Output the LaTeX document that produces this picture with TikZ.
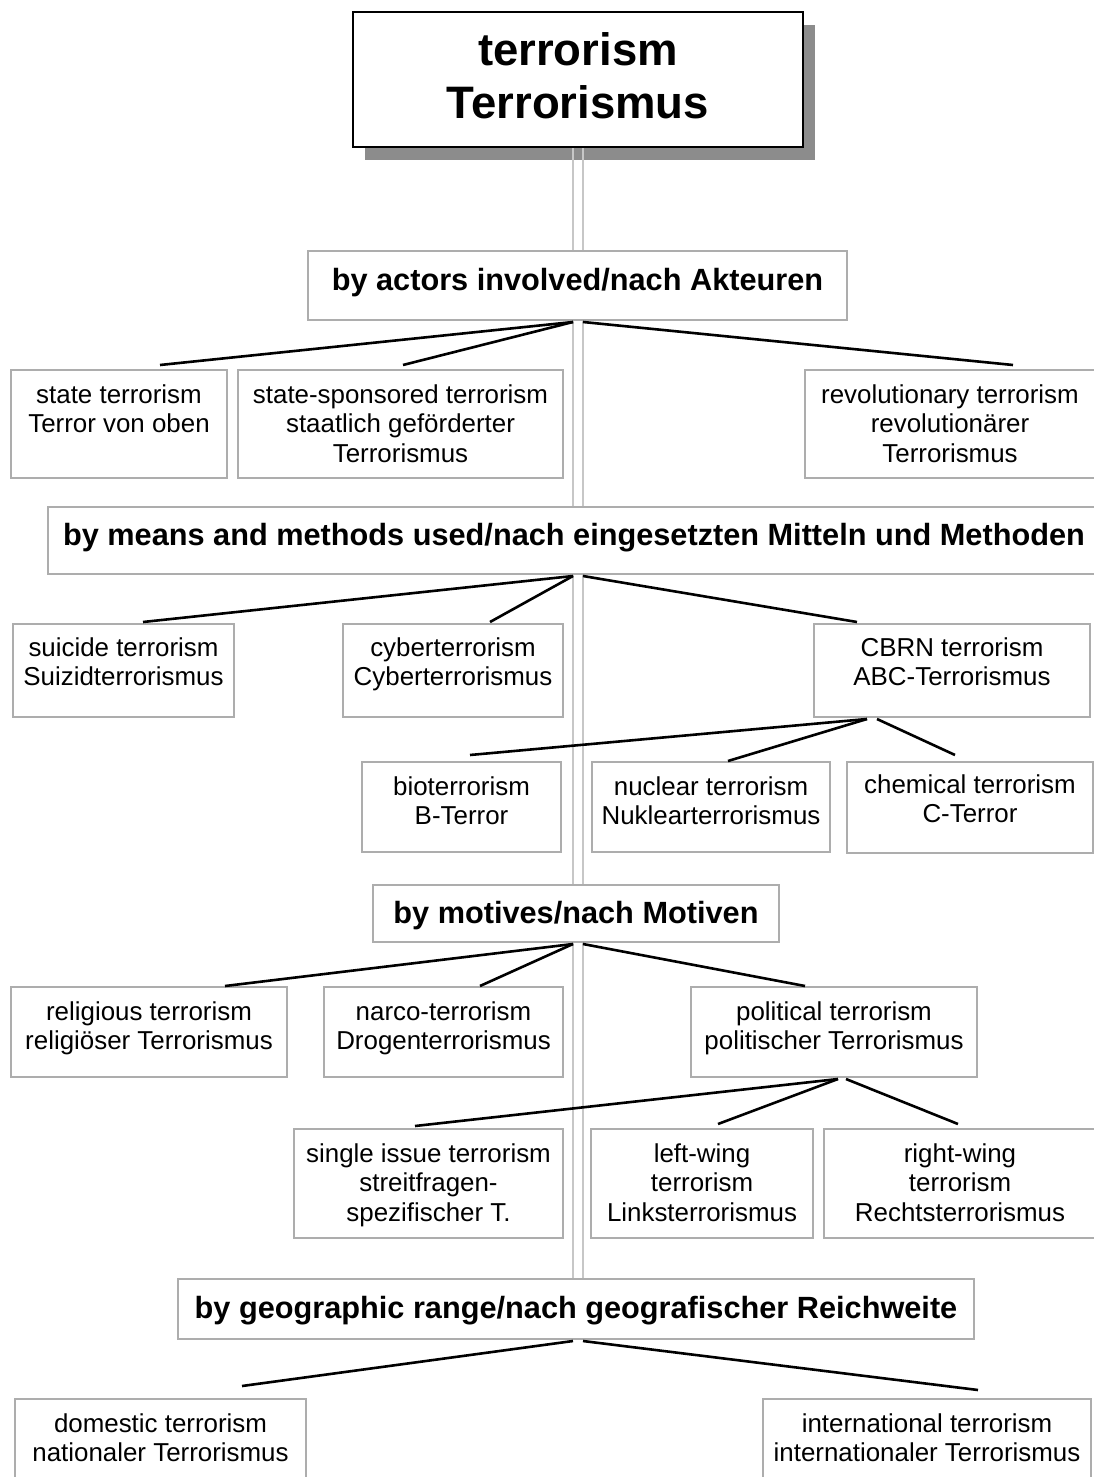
\documentclass[tikz,border=0pt]{standalone}
\usepackage{fontspec}
\setmainfont{Liberation Sans}
\usetikzlibrary{calc,shadows}
\tikzset{
  box/.style={draw=black!32, line width=1.3pt, fill=white, inner sep=0pt, outer sep=0pt, anchor=north west,
              drop shadow={shadow xshift=1.2pt, shadow yshift=-1.2pt, opacity=0.25, fill=black},
              font=\fontsize{25.9pt}{29.5pt}\selectfont},
  headbox/.style={box, font=\bfseries\fontsize{30.7pt}{34pt}\selectfont},
  titlebox/.style={draw=black, line width=2pt, fill=white, inner sep=0pt, outer sep=0pt, anchor=north west,
                   font=\bfseries\fontsize{45.5pt}{53pt}\selectfont},
  conn/.style={draw=black, line width=2.6pt},
  spine/.style={draw=black!22, line width=2pt},
  shadowfill/.style={fill=black!45},
}
% #1 style, #2 name, #3 x1, #4 y1, #5 x2, #6 y2, #7 first baseline offset, #8 text
\newcommand{\mkbox}[8]{%
  \node[#1] (#2) at (#3,#4) {\parbox[c][\dimexpr #6pt-#4pt\relax][t]{\dimexpr #5pt-#3pt\relax}{\centering\rule{0pt}{#7pt}#8}};}
% #1 start point, #2 child, #3 dx, #4 gap
\newcommand{\link}[4]{\draw[conn] #1 -- ($(#2.north)+(#3,-#4)$);}
\begin{document}
\begin{tikzpicture}[x=1pt,y=-1pt]
\useasboundingbox (0,0) rectangle (1094,1477);
\clip (0,0) rectangle (1094,1477);
\fill[white] (0,0) rectangle (1094,1477);
\coordinate (spL) at (573,0);
\coordinate (spR) at (583,0);
\coordinate (spTop) at (0,147);
\coordinate (spBot) at (0,1279);
% title shadow
\fill[shadowfill] (365,25) rectangle (815,160);
% spine
\draw[spine] (spL |- spTop) -- (spL |- spBot);
\draw[spine] (spR |- spTop) -- (spR |- spBot);
% title
\mkbox{titlebox}{title}{353}{12}{803}{147}{54}{terrorism\\Terrorismus}
% actors
\mkbox{headbox}{act}{308}{251}{847}{320}{39}{by actors involved/nach Akteuren}
\mkbox{box}{st}{11}{370}{227}{478}{33}{state terrorism\\Terror von oben}
\mkbox{box}{ss}{238}{370}{563}{478}{33}{state-sponsored terrorism\\staatlich geförderter\\Terrorismus}
\mkbox{box}{rev}{805}{370}{1095}{478}{33}{revolutionary terrorism\\revolutionärer\\Terrorismus}
% means
\mkbox{headbox}{mm}{48}{507}{1100}{574}{38}{by means and methods used/nach eingesetzten Mitteln und Methoden}
\mkbox{box}{sui}{13}{624}{234}{717}{32}{suicide terrorism\\Suizidterrorismus}
\mkbox{box}{cyb}{343}{624}{563}{717}{32}{cyberterrorism\\Cyberterrorismus}
\mkbox{box}{cbrn}{814}{624}{1090}{717}{32}{CBRN terrorism\\ABC-Terrorismus}
\mkbox{box}{bio}{362}{762}{561}{852}{33}{bioterrorism\\B-Terror}
\mkbox{box}{nuc}{592}{762}{830}{852}{33}{nuclear terrorism\\Nuklearterrorismus}
\mkbox{box}{chem}{847}{762}{1093}{853}{31}{chemical terrorism\\C-Terror}
% motives
\mkbox{headbox}{mot}{373}{885}{779}{942}{38}{by motives/nach Motiven}
\mkbox{box}{rel}{11}{987}{287}{1077}{33}{religious terrorism\\religiöser Terrorismus}
\mkbox{box}{nar}{324}{987}{563}{1077}{33}{narco-terrorism\\Drogenterrorismus}
\mkbox{box}{pol}{691}{987}{977}{1077}{33}{political terrorism\\politischer Terrorismus}
\mkbox{box}{si}{294}{1129}{563}{1238}{33}{single issue terrorism\\streitfragen-\\spezifischer T.}
\mkbox{box}{lw}{591}{1129}{813}{1238}{33}{left-wing\\terrorism\\Linksterrorismus}
\mkbox{box}{rw}{824}{1129}{1096}{1238}{33}{right-wing\\terrorism\\Rechtsterrorismus}
% geographic
\mkbox{headbox}{geo}{178}{1279}{974}{1339}{39}{by geographic range/nach geografischer Reichweite}
\mkbox{box}{dom}{15}{1399}{306}{1490}{33}{domestic terrorism\\nationaler Terrorismus}
\mkbox{box}{int}{763}{1399}{1091}{1490}{33}{international terrorism\\internationaler Terrorismus}
% connectors
\link{($(act.south -| spL)+(0,2)$)}{st}{41}{5}
\link{($(act.south -| spL)+(0,2)$)}{ss}{2.5}{5}
\link{($(act.south -| spR)+(0,2)$)}{rev}{63}{5}
\link{($(mm.south -| spL)+(0,2)$)}{sui}{19.5}{2}
\link{($(mm.south -| spL)+(0,2)$)}{cyb}{37}{2}
\link{($(mm.south -| spR)+(0,2)$)}{cbrn}{-95}{2}
\link{($(cbrn.south)+(-85,2)$)}{bio}{8.5}{7}
\link{($(cbrn.south)+(-85,2)$)}{nuc}{17}{1}
\link{($(cbrn.south)+(-75,2)$)}{chem}{-15}{7}
\link{($(mot.south -| spL)+(0,2)$)}{rel}{76}{1}
\link{($(mot.south -| spL)+(0,2)$)}{nar}{36.5}{1}
\link{($(mot.south -| spR)+(0,2)$)}{pol}{-29}{1}
\link{($(pol.south)+(4,2)$)}{si}{-13.5}{3}
\link{($(pol.south)+(4,2)$)}{lw}{16}{5}
\link{($(pol.south)+(12,2)$)}{rw}{-2}{5}
\link{($(geo.south -| spL)+(0,2)$)}{dom}{81.5}{13}
\link{($(geo.south -| spR)+(0,2)$)}{int}{51}{9}
\end{tikzpicture}
\end{document}
